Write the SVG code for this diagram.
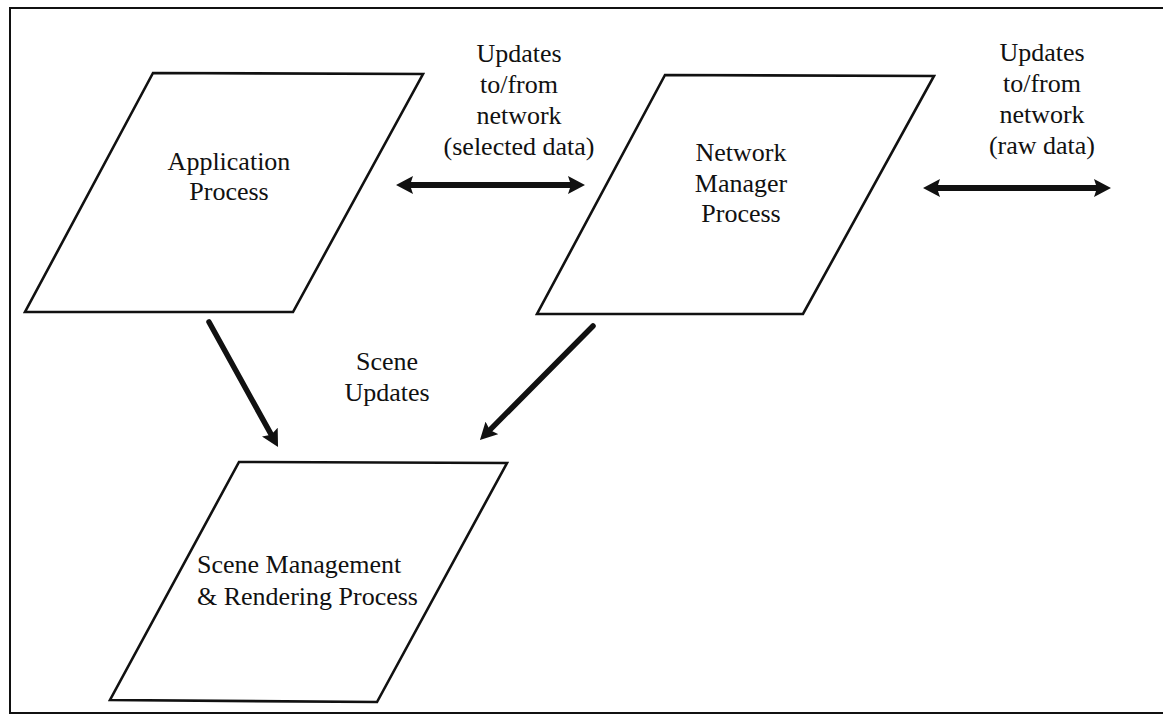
<svg xmlns="http://www.w3.org/2000/svg" width="1163" height="715" viewBox="0 0 1163 715">
<style>
.frame{fill:none;stroke:#111;stroke-width:2}
.node{fill:#fff;stroke:#111;stroke-width:2.6;stroke-linejoin:miter}
.lbl{font-family:"Liberation Serif","Times New Roman",serif;font-size:26px;fill:#111}
.mid{text-anchor:middle}
.conn{fill:none;stroke:#111}
.h{stroke-width:6;stroke-linecap:butt}
.d{stroke-width:5.5;stroke-linecap:round}
</style>
<defs>
<marker id="ah" markerUnits="userSpaceOnUse" viewBox="0 0 17 18" markerWidth="17" markerHeight="18" refX="7" refY="9" orient="auto-start-reverse">
<path d="M0,0 L17,9 L0,18 L3,9 z" fill="#111"/>
</marker>
</defs>
<rect width="1163" height="715" fill="#fff"/>
<path class="frame" d="M1163,8 H10 V713 H1163"/>
<g id="app">
<polygon class="node" points="153,73 423,74 293,312 25,312"/>
<text class="lbl mid" x="229" y="170">Application</text>
<text class="lbl mid" x="229" y="200">Process</text>
</g>
<g id="netmgr">
<polygon class="node" points="665,75 934,76 803,314 537,314"/>
<text class="lbl mid" x="741" y="161">Network</text>
<text class="lbl mid" x="741" y="192">Manager</text>
<text class="lbl mid" x="741" y="222">Process</text>
</g>
<g id="scene">
<polygon class="node" points="239,462 507,463 377,702 110,700"/>
<text class="lbl" x="197" y="573">Scene Management</text>
<text class="lbl" x="197" y="605">&amp; Rendering Process</text>
</g>
<g id="connectors">
<line class="conn h" x1="406" y1="185" x2="575" y2="185" marker-start="url(#ah)" marker-end="url(#ah)"/>
<line class="conn h" x1="933" y1="188" x2="1101" y2="188" marker-start="url(#ah)" marker-end="url(#ah)"/>
<line class="conn d" x1="209" y1="322" x2="273.2" y2="438.2" marker-end="url(#ah)"/>
<line class="conn d" x1="593" y1="326" x2="487" y2="432.9" marker-end="url(#ah)"/>
</g>
<g id="labels">
<text class="lbl mid" x="519" y="62">Updates</text>
<text class="lbl mid" x="519" y="93">to/from</text>
<text class="lbl mid" x="519" y="124">network</text>
<text class="lbl mid" x="519" y="155">(selected data)</text>
<text class="lbl mid" x="1042" y="61">Updates</text>
<text class="lbl mid" x="1042" y="92">to/from</text>
<text class="lbl mid" x="1042" y="123">network</text>
<text class="lbl mid" x="1042" y="154">(raw data)</text>
<text class="lbl mid" x="387" y="370">Scene</text>
<text class="lbl mid" x="387" y="401">Updates</text>
</g>
</svg>
